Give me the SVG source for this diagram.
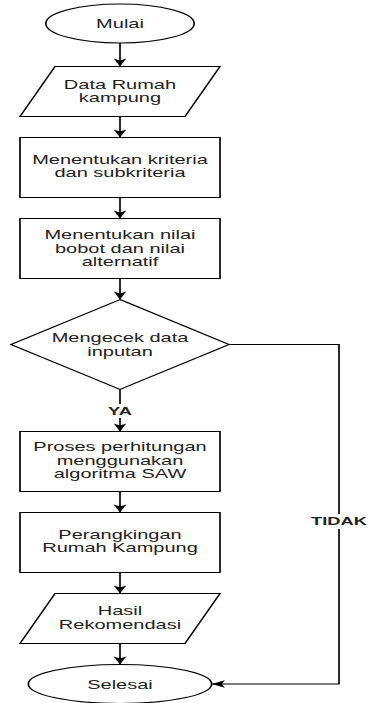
<svg xmlns="http://www.w3.org/2000/svg" width="369" height="703" viewBox="0 0 369 703">
<defs>
<marker id="arr" markerWidth="10" markerHeight="10" viewBox="-9 -5 10 10" refX="0" refY="0" orient="auto" markerUnits="userSpaceOnUse">
<path d="M0,0 L-8,-3.8 L-6,0 L-8,3.8 Z" fill="#000" stroke="none"/>
</marker>
</defs>
<style>
.s{fill:#fff;stroke:#000;stroke-width:1}
.t{font-family:"Liberation Sans",Arial,Helvetica,sans-serif;font-size:12px;fill:#222;text-anchor:middle}
.l{font-family:"Liberation Sans",Arial,Helvetica,sans-serif;font-size:11px;font-weight:bold;fill:#222;text-anchor:middle}
.c{fill:none;stroke:#000;stroke-width:1;marker-end:url(#arr)}
</style>
<rect width="369" height="703" fill="#fff"/>
<g transform="scale(1.6667 1)">
<g id="connectors">
<path class="c" d="M72,43 V66.5"/>
<path class="c" d="M72,116.5 V137.5"/>
<path class="c" d="M72,197.5 V218.5"/>
<path class="c" d="M72,278.5 V299.5"/>
<path class="c" d="M72,389.5 V431.5"/>
<path class="c" d="M72,491.5 V512.5"/>
<path class="c" d="M72,572.5 V593.5"/>
<path class="c" d="M72,643.5 V664.5"/>
<path class="c" d="M137.5,344.5 H203.4 V684 H127"/>
<rect x="63" y="404" width="18" height="14" fill="#fff"/>
<text class="l" x="72" y="415">YA</text>
<rect x="185.4" y="514" width="36" height="15" fill="#fff"/>
<text class="l" x="203.4" y="525.5">TIDAK</text>
</g>
<g id="mulai">
<ellipse class="s" cx="72" cy="23.5" rx="44.5" ry="19.5"/>
<text class="t" x="72" y="28.5">Mulai</text>
</g>
<g id="data">
<polygon class="s" points="33,66.5 132,66.5 111,116.5 12,116.5"/>
<text class="t" x="72" y="89">Data Rumah</text>
<text class="t" x="72" y="102.5">kampung</text>
</g>
<g id="kriteria">
<rect class="s" x="12" y="137.5" width="120" height="60"/>
<text class="t" x="72" y="164">Menentukan kriteria</text>
<text class="t" x="72" y="177.5">dan subkriteria</text>
</g>
<g id="bobot">
<rect class="s" x="12" y="218.5" width="120" height="60"/>
<text class="t" x="72" y="239.5">Menentukan nilai</text>
<text class="t" x="72" y="253">bobot dan nilai</text>
<text class="t" x="72" y="266.5">alternatif</text>
</g>
<g id="cek">
<polygon class="s" points="72,299.5 137.5,344.5 72,389.5 6.5,344.5"/>
<text class="t" x="72" y="342.5">Mengecek data</text>
<text class="t" x="72" y="356">inputan</text>
</g>
<g id="saw">
<rect class="s" x="12" y="431.5" width="120" height="60"/>
<text class="t" x="72" y="451.5">Proses perhitungan</text>
<text class="t" x="72" y="465">menggunakan</text>
<text class="t" x="72" y="478.5">algoritma SAW</text>
</g>
<g id="rangking">
<rect class="s" x="12" y="512.5" width="120" height="60"/>
<text class="t" x="72" y="539">Perangkingan</text>
<text class="t" x="72" y="552.5">Rumah Kampung</text>
</g>
<g id="hasil">
<polygon class="s" points="33,593.5 132,593.5 111,643.5 12,643.5"/>
<text class="t" x="72" y="615">Hasil</text>
<text class="t" x="72" y="629">Rekomendasi</text>
</g>
<g id="selesai">
<ellipse class="s" cx="72" cy="684" rx="55" ry="19.5"/>
<text class="t" x="72" y="689">Selesai</text>
</g>
</g>
</svg>
